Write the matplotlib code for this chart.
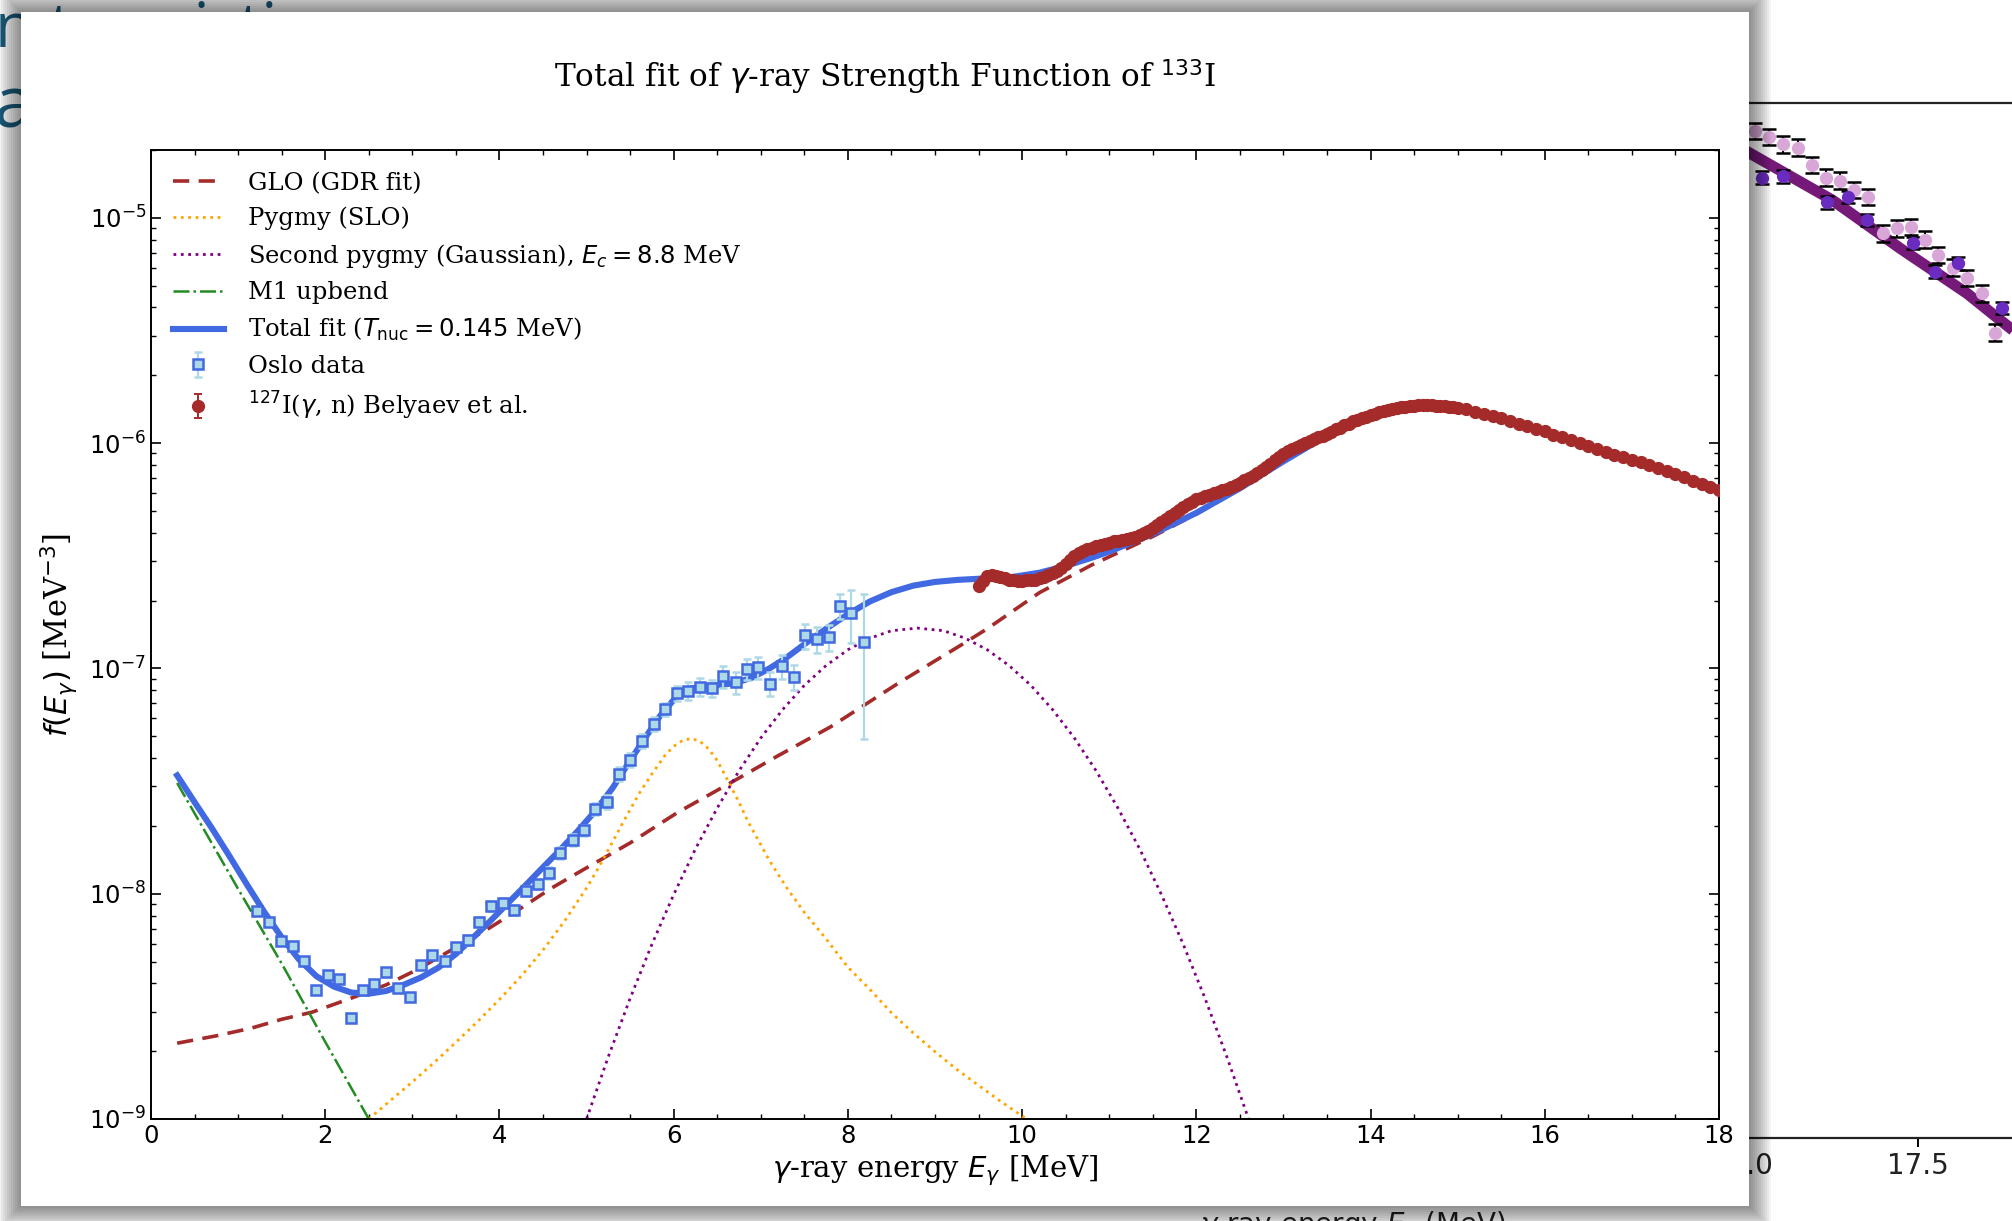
import matplotlib
matplotlib.use("Agg")
import matplotlib.pyplot as plt
from matplotlib.patches import Rectangle

W, H = 2012, 1221
plt.rcParams["mathtext.fontset"] = "dejavusans"
plt.rcParams["font.family"] = "DejaVu Sans"

# ---- Oslo data (E in MeV, f in MeV^-3, relative error) ----
oslo_E = [1.22, 1.36, 1.49, 1.63, 1.76, 1.89, 2.03, 2.16, 2.30, 2.43, 2.56, 2.70, 2.83, 2.97,
          3.10, 3.23, 3.37, 3.50, 3.64, 3.77, 3.90, 4.04, 4.17, 4.31, 4.44, 4.57, 4.70, 4.84,
          4.97, 5.10, 5.23, 5.37, 5.50, 5.64, 5.77, 5.90, 6.04, 6.17, 6.30, 6.44, 6.57, 6.71,
          6.84, 6.97, 7.11, 7.24, 7.38, 7.51, 7.64, 7.78, 7.91, 8.04, 8.18]
oslo_f9 = [8.4, 7.46, 6.17, 5.85, 5.04, 3.74, 4.35, 4.19, 2.80, 3.74, 3.96, 4.48, 3.82, 3.47,
           4.84, 5.37, 5.05, 5.82, 6.24, 7.47, 8.83, 9.07, 8.47, 10.3, 11.0, 12.4, 15.2, 17.4,
           19.1, 23.8, 25.6, 34.0, 39.3, 47.8, 56.6, 65.9, 77.7, 79.6, 82.8, 81.7, 92.4, 86.9,
           99.3, 101.0, 85.7, 102.0, 91.8, 140.0, 135.0, 138.0, 190.0, 176.0, 131.0]
oslo_rel = [0.04, 0.04, 0.04, 0.04, 0.04, 0.04, 0.04, 0.04, 0.04, 0.04, 0.04, 0.04, 0.04, 0.04,
            0.04, 0.04, 0.04, 0.04, 0.05, 0.05, 0.05, 0.05, 0.05, 0.05, 0.05, 0.06, 0.06, 0.06,
            0.06, 0.06, 0.07, 0.07, 0.07, 0.07, 0.07, 0.07, 0.08, 0.09, 0.09, 0.09, 0.11, 0.11,
            0.11, 0.11, 0.12, 0.12, 0.13, 0.13, 0.13, 0.13, 0.13, 0.26, 0.63]
oslo_f = [v * 1e-9 for v in oslo_f9]
oslo_err = [v * r for v, r in zip(oslo_f, oslo_rel)]

# ---- 127I(g,n) Belyaev et al. ----
bel_E = [9.50, 9.55, 9.60, 9.65, 9.70, 9.75, 9.80, 9.85, 9.90, 9.95,
         10.00, 10.05, 10.10, 10.15, 10.20, 10.25, 10.30, 10.35, 10.40, 10.45,
         10.50, 10.55, 10.60, 10.65, 10.70, 10.75, 10.80, 10.85, 10.90, 10.95,
         11.00, 11.05, 11.10, 11.15, 11.20, 11.25, 11.30, 11.35, 11.40, 11.45,
         11.50, 11.55, 11.60, 11.65, 11.70, 11.75, 11.80, 11.85, 11.90, 11.95,
         12.00, 12.05, 12.10, 12.15, 12.20, 12.25, 12.30, 12.35, 12.40, 12.45,
         12.50, 12.55, 12.60, 12.65, 12.70, 12.75, 12.80, 12.85, 12.90, 12.95,
         13.00, 13.05, 13.10, 13.15, 13.20, 13.25, 13.30, 13.35, 13.40, 13.45,
         13.50, 13.55, 13.60, 13.65, 13.70, 13.75, 13.80, 13.85, 13.90, 13.95,
         14.00, 14.05, 14.10, 14.15, 14.20, 14.25, 14.30, 14.35, 14.40, 14.45,
         14.50, 14.55, 14.60, 14.65, 14.70, 14.75, 14.80, 14.85, 14.90, 14.95,
         15.0, 15.1, 15.2, 15.3, 15.4, 15.5, 15.6, 15.7, 15.8, 15.9,
         16.0, 16.1, 16.2, 16.3, 16.4, 16.5, 16.6, 16.7, 16.8, 16.9,
         17.0, 17.1, 17.2, 17.3, 17.4, 17.5, 17.6, 17.7, 17.8, 17.9, 18.0]
bel_f7 = [2.33, 2.45, 2.56, 2.60, 2.58, 2.54, 2.51, 2.48, 2.46, 2.45,
          2.45, 2.46, 2.47, 2.48, 2.51, 2.54, 2.59, 2.65, 2.72, 2.80,
          2.90, 3.02, 3.14, 3.25, 3.33, 3.39, 3.44, 3.49, 3.53, 3.58,
          3.62, 3.66, 3.69, 3.72, 3.76, 3.80, 3.85, 3.91, 3.99, 4.09,
          4.22, 4.35, 4.48, 4.62, 4.77, 4.92, 5.07, 5.22, 5.36, 5.50,
          5.62, 5.72, 5.82, 5.90, 5.98, 6.07, 6.18, 6.28, 6.38, 6.50,
          6.62, 6.85, 6.98, 7.12, 7.40, 7.62, 7.85, 8.10, 8.40, 8.72,
          8.98, 9.20, 9.42, 9.62, 9.82, 10.0, 10.2, 10.4, 10.6, 10.8,
          11.0, 11.2, 11.5, 11.7, 12.0, 12.2, 12.5, 12.7, 12.9, 13.1,
          13.3, 13.5, 13.7, 13.9, 14.0, 14.2, 14.3, 14.4, 14.5, 14.6,
          14.65, 14.7, 14.7, 14.7, 14.7, 14.65, 14.6, 14.55, 14.5, 14.4,
          14.3, 14.1, 13.8, 13.5, 13.2, 12.9, 12.6, 12.2, 11.9, 11.6,
          11.3, 10.9, 10.6, 10.3, 10.0, 9.72, 9.44, 9.15, 8.88, 8.65,
          8.42, 8.22, 8.02, 7.78, 7.52, 7.28, 7.05, 6.82, 6.60, 6.40, 6.21]
bel_f = [v * 1e-7 for v in bel_f7]
bel_err = [v * 0.02 for v in bel_f]

# ---- model curves ----
glo_E = [0.3, 0.75, 1.15, 1.5, 1.85, 2.3, 2.7, 3.05, 3.45, 3.85, 4.2, 4.6, 4.95, 5.5, 6.05,
         6.65, 7.2, 7.8, 8.6, 9.3, 9.6, 10.2, 10.8, 11.5, 12.0, 12.5, 13.0, 13.5, 14.0, 14.5,
         14.75, 15.0, 15.5, 16.0, 16.5, 17.0, 17.5, 18.0]
glo_f = [2.17e-9, 2.34e-9, 2.53e-9, 2.77e-9, 2.98e-9, 3.44e-9, 3.94e-9, 4.59e-9, 5.63e-9,
         6.91e-9, 8.4e-9, 1.06e-8, 1.27e-8, 1.68e-8, 2.3e-8, 3.1e-8, 4.1e-8, 5.5e-8, 8.7e-8,
         1.27e-7, 1.5e-7, 2.17e-7, 2.88e-7, 3.85e-7, 4.85e-7, 6.25e-7, 8.25e-7, 1.075e-6,
         1.315e-6, 1.445e-6, 1.455e-6, 1.425e-6, 1.295e-6, 1.125e-6, 9.75e-7, 8.35e-7,
         7.25e-7, 6.25e-7]

slo_E = [2.5, 2.75, 3.0, 3.25, 3.5, 3.75, 4.0, 4.25, 4.5, 4.75, 5.0, 5.15, 5.3, 5.45, 5.6,
         5.75, 5.9, 6.0, 6.1, 6.2, 6.3, 6.4, 6.5, 6.6, 6.75, 6.85, 7.0, 7.1, 7.3, 7.5, 7.75,
         8.0, 8.25, 8.5, 8.75, 9.0, 9.25, 9.5, 9.75, 10.05]
slo_f = [1.0e-9, 1.21e-9, 1.46e-9, 1.78e-9, 2.19e-9, 2.71e-9, 3.39e-9, 4.31e-9, 5.62e-9,
         7.59e-9, 1.06e-8, 1.33e-8, 1.7e-8, 2.18e-8, 2.77e-8, 3.4e-8, 4.11e-8, 4.51e-8,
         4.78e-8, 4.89e-8, 4.75e-8, 4.4e-8, 3.9e-8, 3.3e-8, 2.55e-8, 2.1e-8, 1.65e-8,
         1.4e-8, 1.06e-8, 8.26e-9, 6.3e-9, 4.72e-9, 3.77e-9, 2.96e-9, 2.41e-9, 1.99e-9,
         1.66e-9, 1.41e-9, 1.2e-9, 1.0e-9]

gau_E = [5.0, 5.25, 5.5, 5.75, 6.0, 6.25, 6.5, 6.75, 7.0, 7.25, 7.5, 7.75, 8.0, 8.25, 8.5,
         8.8, 9.1, 9.35, 9.6, 9.85, 10.1, 10.35, 10.6, 10.85, 11.1, 11.35, 11.6, 11.85,
         12.1, 12.35, 12.6]
gau_f = [1.0e-9, 1.89e-9, 3.43e-9, 5.96e-9, 9.9e-9, 1.58e-8, 2.4e-8, 3.51e-8, 4.91e-8,
         6.56e-8, 8.41e-8, 1.03e-7, 1.21e-7, 1.36e-7, 1.47e-7, 1.51e-7, 1.47e-7, 1.36e-7,
         1.21e-7, 1.03e-7, 8.41e-8, 6.56e-8, 4.91e-8, 3.51e-8, 2.4e-8, 1.58e-8, 9.9e-9,
         5.96e-9, 3.43e-9, 1.89e-9, 1.0e-9]

m1_E = [0.3, 1.0, 1.5, 2.0, 2.5]
m1_f = [3.1e-8, 1.05e-8, 4.9e-9, 2.2e-9, 1.0e-9]

tot_E = [0.3, 0.5, 0.7, 0.9, 1.1, 1.3, 1.5, 1.7, 1.9, 2.1, 2.3, 2.5, 2.7, 2.9, 3.1, 3.3, 3.5,
         3.7, 3.9, 4.1, 4.3, 4.5, 4.7, 4.9, 5.1, 5.3, 5.5, 5.7, 5.85, 6.0, 6.1, 6.2, 6.35,
         6.5, 6.7, 6.9, 7.1, 7.3, 7.5, 7.75, 8.0, 8.25, 8.5, 8.75, 9.0, 9.25, 9.5, 9.9,
         10.2, 10.5, 10.8, 11.0, 11.5, 12.0, 12.5, 13.0, 13.5, 14.0, 14.5, 14.75, 15.0,
         15.5, 16.0, 16.5, 17.0, 17.5, 18.0]
tot_f = [3.35e-8, 2.55e-8, 1.95e-8, 1.47e-8, 1.1e-8, 8.3e-9, 6.4e-9, 5.1e-9, 4.3e-9,
         3.87e-9, 3.64e-9, 3.6e-9, 3.7e-9, 3.94e-9, 4.25e-9, 4.7e-9, 5.4e-9, 6.4e-9, 7.6e-9,
         9.1e-9, 1.09e-8, 1.31e-8, 1.57e-8, 1.9e-8, 2.33e-8, 2.95e-8, 3.9e-8, 5.1e-8,
         6.2e-8, 7.25e-8, 7.85e-8, 8.15e-8, 8.35e-8, 8.42e-8, 8.6e-8, 9.1e-8, 1.0e-7,
         1.12e-7, 1.28e-7, 1.5e-7, 1.74e-7, 1.98e-7, 2.18e-7, 2.33e-7, 2.42e-7, 2.47e-7,
         2.5e-7, 2.55e-7, 2.66e-7, 2.85e-7, 3.1e-7, 3.3e-7, 3.95e-7, 4.9e-7, 6.3e-7, 8.3e-7,
         1.08e-6, 1.32e-6, 1.45e-6, 1.46e-6, 1.43e-6, 1.3e-6, 1.13e-6, 9.8e-7, 8.4e-7,
         7.3e-7, 6.3e-7]

# ---- background slide chart (partly hidden) ----
bgc_x = [14.5, 15.10, 16.29, 17.24, 18.20, 18.84, 19.5]
bgc_y = [0.975, 0.952, 0.906, 0.860, 0.816, 0.781, 0.74]
bgp_x = [15.18, 15.38, 15.58, 15.80, 15.99, 16.19, 16.39, 16.59, 16.79, 17.00, 17.20,
         17.40, 17.60, 17.78, 18.00, 18.20, 18.41, 18.59]
bgp_y = [0.973, 0.967, 0.960, 0.957, 0.940, 0.928, 0.925, 0.916, 0.909, 0.874, 0.879,
         0.880, 0.868, 0.853, 0.841, 0.831, 0.816, 0.778]
bgv_x = [15.28, 15.58, 16.21, 16.51, 16.78, 17.43, 17.74, 18.07, 18.69]
bgv_y = [0.928, 0.929, 0.904, 0.909, 0.887, 0.865, 0.837, 0.845, 0.802]

fig = plt.figure(figsize=(W / 100, H / 100), dpi=100, facecolor="white")


def px_rect(x0, y0, x1, y1, **kw):
    return Rectangle((x0 / W, 1 - y1 / H), (x1 - x0) / W, (y1 - y0) / H,
                     transform=fig.transFigure, **kw)


# slide text behind the popup
teal = "#1b5d7c"
fig.text(-5 / W, 1 - 47 / H, "n to existing", fontsize=45, family="Open Sans",
         color=teal, va="baseline", zorder=1)
fig.text(-6 / W, 1 - 127 / H, "a", fontsize=52, family="Open Sans", color=teal,
         va="baseline", zorder=1)

axb = fig.add_axes([1100 / W, 1 - 1138 / H, 1200 / W, 1035 / H], zorder=1)
axb.patch.set_visible(False)
axb.set_xlim(5.88, 22.93)
axb.set_ylim(0, 1)
for s in ["left", "right"]:
    axb.spines[s].set_visible(False)
for s in ["top", "bottom"]:
    axb.spines[s].set_linewidth(1.6)
    axb.spines[s].set_color("#222222")
axb.set_yticks([])
axb.set_xticks([12.5, 15.0, 17.5])
axb.tick_params(axis="x", direction="out", length=6.5, width=1.4, labelsize=20,
                labelcolor="#222222", top=False)
axb.plot(bgc_x, bgc_y, color="#761a7a", lw=8, solid_capstyle="butt", zorder=2)
axb.errorbar(bgp_x, bgp_y, yerr=0.008, fmt="o", ms=8.5, color="#d9a6d8", ecolor="black",
             elinewidth=1.4, capsize=5, capthick=1.8, zorder=3)
axb.errorbar(bgv_x, bgv_y, yerr=0.006, fmt="o", ms=8.5, color="#6a2bc0", ecolor="black",
             elinewidth=1.4, capsize=5, capthick=1.8, zorder=3)
fig.text(1353 / W, 1 - 1209 / H, r"$\gamma$-ray energy $E_\gamma$ (MeV)", fontsize=20,
         color="#222222", ha="center", va="top", zorder=1)

# popup shadow + white panel
for d in range(2, 24, 2):
    fig.add_artist(px_rect(21 - d, 12 - d, 1749 + d, 1206 + d, facecolor="black",
                           alpha=0.048, lw=0, zorder=2))
fig.add_artist(px_rect(21, 12, 1749, 1206, facecolor="white", lw=0, zorder=3))

# ---- main chart ----
ax = fig.add_axes([151 / W, 1 - 1119 / H, 1568 / W, 969 / H], zorder=4)
ax.set_yscale("log")

h_glo, = ax.plot(glo_E, glo_f, ls=(0, (4.5, 2.6)), color="brown", lw=2.6,
                 label="GLO (GDR fit)", zorder=2)
h_slo, = ax.plot(slo_E, slo_f, ls=":", color="orange", lw=2.0,
                 label="Pygmy (SLO)", zorder=2)
h_gau, = ax.plot(gau_E, gau_f, ls=":", color="purple", lw=2.0,
                 label=r"Second pygmy (Gaussian), $E_c = 8.8$ MeV", zorder=2)
h_m1, = ax.plot(m1_E, m1_f, ls="-.", color="forestgreen", lw=1.8,
                label="M1 upbend", zorder=2)
h_tot, = ax.plot(tot_E, tot_f, "-", color="royalblue", lw=4.4,
                 label=r"Total fit ($T_{\rm nuc} = 0.145$ MeV)", zorder=3)
h_oslo = ax.errorbar(oslo_E, oslo_f, yerr=oslo_err, fmt="s", ms=6.8, mfc="lightblue",
                     mec="royalblue", mew=1.8, ecolor="lightblue", elinewidth=1.6,
                     capsize=3.2, capthick=1.6, label="Oslo data", zorder=4)
h_bel = ax.errorbar(bel_E, bel_f, yerr=bel_err, fmt="o", ms=8.5, color="brown",
                    ecolor="brown", elinewidth=1.4, capsize=3, capthick=1.4,
                    label=r"$^{127}$I($\gamma$, n) Belyaev et al.", zorder=5)

ax.set_xlim(0, 18)
ax.set_ylim(1e-9, 2e-5)
ax.set_xticks(range(0, 19, 2))
ax.set_xticks([x * 0.5 for x in range(0, 37)], minor=True)
ax.tick_params(which="both", direction="in", top=True, right=True, labelsize=17.5)
ax.tick_params(which="major", length=7, width=1.2)
ax.tick_params(which="minor", length=3.6, width=1.0)
for s in ax.spines.values():
    s.set_linewidth(1.4)

ax.set_xlabel(r"$\gamma$-ray energy $E_\gamma$ [MeV]", family="DejaVu Serif", fontsize=21)
ax.set_ylabel(r"$f(E_\gamma)$ [MeV$^{-3}$]", family="DejaVu Serif", fontsize=22,
              labelpad=7.5)

leg = ax.legend(handles=[h_glo, h_slo, h_gau, h_m1, h_tot, h_oslo, h_bel], loc="upper left",
                frameon=False, prop={"family": "DejaVu Serif", "size": 17.5},
                handlelength=2.1, handletextpad=1.0, labelspacing=0.48, borderaxespad=0.5)

fig.text(885 / W, 1 - 77 / H, r"Total fit of $\gamma$-ray Strength Function of $^{133}$I",
         family="DejaVu Serif", fontsize=22.5, ha="center", va="center", zorder=5)

fig.savefig("out.png", dpi=100, facecolor="white")
